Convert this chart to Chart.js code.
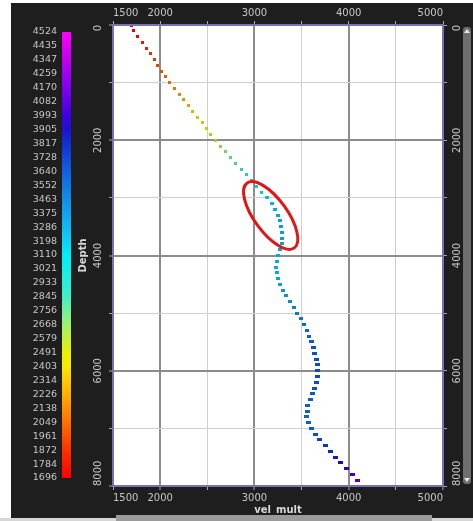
<!DOCTYPE html>
<html>
<head>
<meta charset="utf-8">
<script src="https://cdn.jsdelivr.net/npm/chart.js@4.4.1/dist/chart.umd.min.js"></script>
<style>
  html, body { margin: 0; padding: 0; background: #ffffff; overflow: hidden; }
  canvas { display: block; }
</style>
</head>
<body>
<canvas id="well" width="473" height="521"></canvas>
<script>
// Well log: vel_mult against depth, each sample coloured by its velocity
const depths = [
  0, 100, 200, 300, 400, 500, 600, 700, 800, 900,
  1000, 1100, 1200, 1300, 1400, 1500, 1600, 1700, 1800, 1900,
  2000, 2100, 2200, 2300, 2400, 2500, 2600, 2700, 2800, 2900,
  3000, 3100, 3200, 3300, 3400, 3500, 3600, 3700, 3800, 3900,
  4000, 4100, 4200, 4300, 4400, 4500, 4600, 4700, 4800, 4900,
  5000, 5100, 5200, 5300, 5400, 5500, 5600, 5700, 5800, 5900,
  6000, 6100, 6200, 6300, 6400, 6500, 6600, 6700, 6800, 6900,
  7000, 7100, 7200, 7300, 7400, 7500, 7600, 7700, 7800, 7900,
  8000
];
const velMult = [
  1696, 1720, 1762, 1810, 1860, 1902, 1938, 1975, 2011, 2055,
  2100, 2150, 2200, 2248, 2298, 2348, 2398, 2445, 2492, 2538,
  2586, 2640, 2693, 2750, 2803, 2862, 2918, 2972, 3027, 3080,
  3133, 3183, 3222, 3252, 3272, 3283, 3292, 3294, 3290, 3272,
  3250, 3236, 3232, 3237, 3252, 3275, 3305, 3340, 3380, 3420,
  3455, 3490, 3522, 3555, 3580, 3605, 3625, 3642, 3660, 3672,
  3674, 3668, 3662, 3642, 3612, 3590, 3568, 3558, 3555, 3575,
  3600, 3645, 3695, 3750, 3805, 3860, 3915, 3975, 4035, 4090,
  4150
];

// axis ticks
const velTickValues = [1500, 2000, 2500, 3000, 3500, 4000, 4500, 5000];
const velTickLabels = ['1500', '2000', '', '3000', '', '4000', '', '5000'];
const depthTickValues = [0, 1000, 2000, 3000, 4000, 5000, 6000, 7000, 8000];
const depthTickLabels = ['0', '', '2000', '', '4000', '', '6000', '', '8000'];

// colour bar
const colorbarLabels = [
  '4524', '4435', '4347', '4259', '4170', '4082', '3993', '3905', '3817',
  '3728', '3640', '3552', '3463', '3375', '3286', '3198', '3110', '3021',
  '2933', '2845', '2756', '2668', '2579', '2491', '2403', '2314', '2226',
  '2138', '2049', '1961', '1872', '1784', '1696'
];
const colorMin = 1696;
const colorMax = 4524;
const colorStopValues = [1696, 1870, 2050, 2230, 2400, 2490, 2670, 2850, 3020, 3110,
  3290, 3460, 3640, 3820, 3905, 4000, 4170, 4350, 4524];
const colorStopHex = ['#ff0000', '#ff3000', '#ff7000', '#ffb000', '#f8e800', '#e8f000',
  '#a0f070', '#40f0c8', '#10f0e8', '#00eef8', '#10b8f0', '#1090e8', '#1060e0',
  '#1030d0', '#2010d0', '#4000e0', '#8000f0', '#c000f0', '#ff00ff'];

// highlighted interval (ellipse), given in data units
const highlightAxisVel = [2922, 3423];
const highlightAxisDepth = [2741, 3868];
const highlightMinorRatio = 0.41;

const FONT = '"DejaVu Sans", "Liberation Sans", sans-serif';
const TEXT = '#c6c6c6';
const BG = '#1e1e1e';

function hexToRgb(h) {
  return [parseInt(h.substr(1, 2), 16), parseInt(h.substr(3, 2), 16), parseInt(h.substr(5, 2), 16)];
}
function colorFor(v, shade) {
  const s = shade === undefined ? 1 : shade;
  let i = 0;
  while (i < colorStopValues.length - 2 && v > colorStopValues[i + 1]) i++;
  const a = colorStopValues[i], b = colorStopValues[i + 1];
  const t = Math.max(0, Math.min(1, (v - a) / (b - a)));
  const ca = hexToRgb(colorStopHex[i]), cb = hexToRgb(colorStopHex[i + 1]);
  const c = ca.map((x, k) => Math.round((x + (cb[k] - x) * t) * s));
  return 'rgb(' + c.join(',') + ')';
}

// small rectangular markers, a little wider deeper down the log
const markers = depths.map((d, i) => {
  const w = d < 3000 ? 3 : (d < 5500 ? 4 : 5);
  const h = 3;
  const cv = document.createElement('canvas');
  cv.width = w; cv.height = h;
  const c = cv.getContext('2d');
  c.fillStyle = colorFor(velMult[i], 0.85);
  c.fillRect(0, 0, w, h);
  return cv;
});

const setVelTicks = s => { s.ticks = velTickValues.map(v => ({ value: v })); };
const setDepthTicks = s => { s.ticks = depthTickValues.map(v => ({ value: v })); };
const velGridColor = c => {
  const v = c.tick && c.tick.value;
  if (v === 1500 || v === 5000) return 'rgba(0,0,0,0)';
  return (v % 1000 === 0) ? '#8c8c8c' : '#cfcfcf';
};
const velGridWidth = c => (c.tick && c.tick.value % 1000 === 0) ? 2 : 1;
const depthGridColor = c => {
  const v = c.tick && c.tick.value;
  if (v === 0 || v === 8000) return 'rgba(0,0,0,0)';
  return (v % 2000 === 0) ? '#8c8c8c' : '#cfcfcf';
};
const depthGridWidth = c => (c.tick && c.tick.value % 2000 === 0) ? 2 : 1;

const framePlugin = {
  id: 'frame',
  beforeDraw(chart) {
    const ctx = chart.ctx, a = chart.chartArea;
    ctx.save();
    ctx.fillStyle = '#ffffff';
    ctx.fillRect(0, 0, chart.width, chart.height);
    ctx.fillStyle = BG;
    ctx.fillRect(11, 3, chart.width - 11, 515);
    ctx.fillStyle = '#ffffff';
    ctx.fillRect(a.left, a.top, a.right - a.left, a.bottom - a.top);
    ctx.restore();
  },
  afterDatasetsDraw(chart) {
    const ctx = chart.ctx;
    const xs = chart.scales.x, ys = chart.scales.y;
    const x1 = xs.getPixelForValue(highlightAxisVel[0]), y1 = ys.getPixelForValue(highlightAxisDepth[0]);
    const x2 = xs.getPixelForValue(highlightAxisVel[1]), y2 = ys.getPixelForValue(highlightAxisDepth[1]);
    const cx = (x1 + x2) / 2, cy = (y1 + y2) / 2;
    const ra = Math.hypot(x2 - x1, y2 - y1) / 2;
    const ang = Math.atan2(y2 - y1, x2 - x1);
    ctx.save();
    ctx.strokeStyle = '#e01616';
    ctx.lineWidth = 3;
    ctx.beginPath();
    ctx.ellipse(cx, cy, ra, ra * highlightMinorRatio, ang, 0, Math.PI * 2);
    ctx.stroke();
    ctx.restore();
  },
  afterDraw(chart) {
    const ctx = chart.ctx, a = chart.chartArea;
    const ys = chart.scales.y;
    ctx.save();
    // plot border
    ctx.strokeStyle = '#7474b4';
    ctx.lineWidth = 2;
    ctx.strokeRect(a.left, a.top, a.right - a.left, a.bottom - a.top);

    // rotated depth labels on both sides
    ctx.fillStyle = TEXT;
    ctx.font = '10px ' + FONT;
    ctx.textBaseline = 'middle';
    depthTickValues.forEach((v, i) => {
      const lab = depthTickLabels[i];
      if (!lab) return;
      const y = ys.getPixelForValue(v);
      const align = i === 0 ? 'right' : (i === depthTickValues.length - 1 ? 'left' : 'center');
      [a.left - 15, a.right + 14].forEach(x => {
        ctx.save();
        ctx.translate(x, y);
        ctx.rotate(-Math.PI / 2);
        ctx.textAlign = align;
        ctx.fillText(lab, 0, 0);
        ctx.restore();
      });
    });

    // axis titles
    ctx.fillStyle = '#d8d8d8';
    ctx.font = 'bold 10px ' + FONT;
    ctx.textAlign = 'center';
    ctx.save();
    ctx.translate(83, (a.top + a.bottom) / 2);
    ctx.rotate(-Math.PI / 2);
    ctx.fillText('Depth', 0, 0);
    ctx.restore();
    ctx.fillText('vel_mult', (a.left + a.right) / 2, 510);

    // colour bar
    const barTop = 32, barBottom = 478, barL = 62, barW = 9;
    const g = ctx.createLinearGradient(0, barBottom, 0, barTop);
    colorStopValues.forEach((v, i) => g.addColorStop((v - colorMin) / (colorMax - colorMin), colorStopHex[i]));
    ctx.fillStyle = g;
    ctx.fillRect(barL, barTop, barW, barBottom - barTop);
    ctx.fillStyle = TEXT;
    ctx.font = '9.5px ' + FONT;
    ctx.textAlign = 'right';
    ctx.textBaseline = 'middle';
    const n = colorbarLabels.length;
    colorbarLabels.forEach((lab, i) => {
      ctx.fillText(lab, 57, barTop + (barBottom - barTop) * i / (n - 1));
    });

    // vertical scroll bar
    ctx.fillStyle = '#6e6e6e';
    ctx.beginPath();
    ctx.roundRect(463, 27, 8, 457, 3);
    ctx.fill();
    ctx.fillStyle = '#e6e6e6';
    ctx.beginPath();
    ctx.moveTo(464, 33); ctx.lineTo(470, 33); ctx.lineTo(467, 29); ctx.closePath(); ctx.fill();
    ctx.beginPath();
    ctx.moveTo(464, 478); ctx.lineTo(470, 478); ctx.lineTo(467, 482); ctx.closePath(); ctx.fill();

    // horizontal scroll bar along the bottom edge
    ctx.fillStyle = '#d6d6d6';
    ctx.fillRect(0, 518, chart.width, 3);
    ctx.fillStyle = '#9a9a9a';
    ctx.fillRect(116, 515, 316, 6);
    ctx.restore();
  }
};

const tickFont = { family: FONT, size: 10 };

new Chart(document.getElementById('well'), {
  type: 'scatter',
  data: {
    datasets: [{
      data: depths.map((d, i) => ({ x: velMult[i], y: d })),
      xAxisID: 'x',
      yAxisID: 'y',
      pointStyle: c => markers[c.dataIndex],
      pointRadius: 2,
      borderWidth: 0,
      showLine: false
    }]
  },
  options: {
    responsive: false,
    animation: false,
    events: [],
    layout: { padding: { left: 83, right: 10, top: 3, bottom: 13 } },
    plugins: { legend: { display: false }, tooltip: { enabled: false } },
    scales: {
      x: {
        type: 'linear', position: 'bottom', min: 1500, max: 5000,
        afterBuildTicks: setVelTicks,
        afterFit: s => { s.height = 22; },
        border: { display: false },
        grid: { color: velGridColor, lineWidth: velGridWidth, drawTicks: true, tickLength: 4, tickColor: '#a8a8a8', tickWidth: 1 },
        ticks: { color: TEXT, font: tickFont, padding: 2, align: 'inner', maxRotation: 0, autoSkip: false,
                 callback: (v, i) => velTickLabels[i] }
      },
      x2: {
        type: 'linear', axis: 'x', position: 'top', min: 1500, max: 5000,
        afterBuildTicks: setVelTicks,
        afterFit: s => { s.height = 22; },
        border: { display: false },
        grid: { drawOnChartArea: false, drawTicks: true, tickLength: 4, tickColor: '#a8a8a8', tickWidth: 1 },
        ticks: { color: TEXT, font: tickFont, padding: 2, align: 'inner', maxRotation: 0, autoSkip: false,
                 callback: (v, i) => velTickLabels[i] }
      },
      y: {
        type: 'linear', position: 'left', reverse: true, min: 0, max: 8000,
        afterBuildTicks: setDepthTicks,
        afterFit: s => { s.width = 30; },
        border: { display: false },
        grid: { color: depthGridColor, lineWidth: depthGridWidth, drawTicks: true, tickLength: 4, tickColor: '#a8a8a8', tickWidth: 1 },
        ticks: { display: false }
      },
      y2: {
        type: 'linear', axis: 'y', position: 'right', reverse: true, min: 0, max: 8000,
        afterBuildTicks: setDepthTicks,
        afterFit: s => { s.width = 20; },
        border: { display: false },
        grid: { drawOnChartArea: false, drawTicks: true, tickLength: 4, tickColor: '#a8a8a8', tickWidth: 1 },
        ticks: { display: false }
      }
    }
  },
  plugins: [framePlugin]
});
</script>
</body>
</html>
